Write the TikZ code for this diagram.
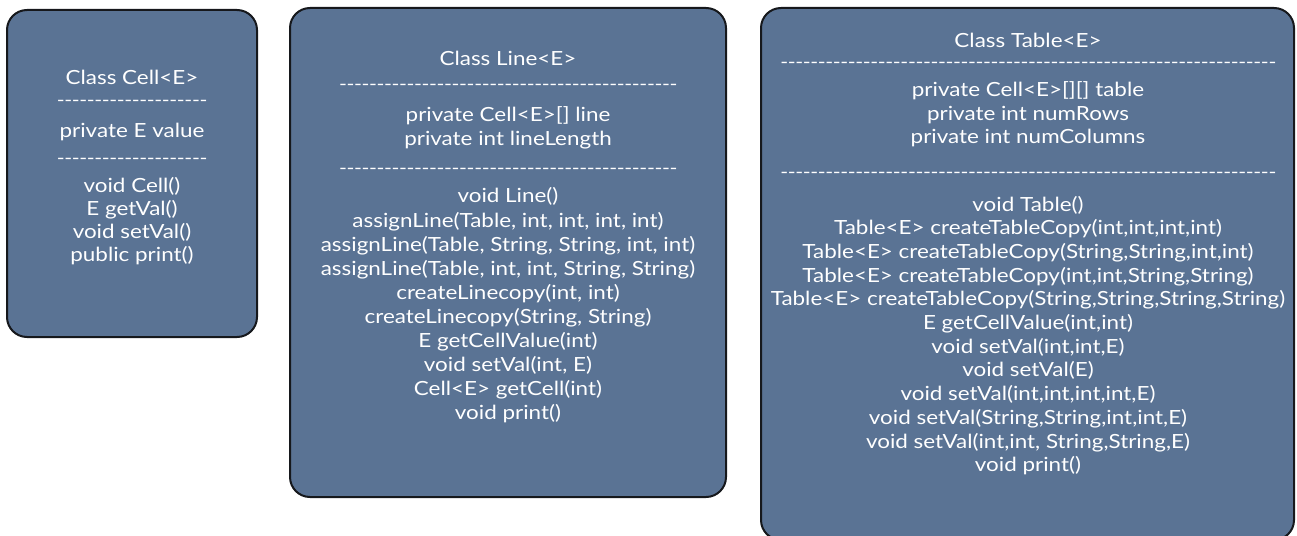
\documentclass[tikz,border=0pt]{standalone}
\usepackage{fontspec}
\setmainfont{Lato}[FakeStretch=1.15]
\definecolor{boxfill}{RGB}{90,115,148}
\definecolor{boxedge}{RGB}{22,24,28}
\newcount\dcnt
\newcommand\dashrow[1]{\dcnt=0\relax\loop\ifnum\dcnt<#1\relax\makebox[7.5pt]{-}\advance\dcnt by 1\relax\repeat}
\begin{document}
\begin{tikzpicture}[x=1pt,y=-1pt,
 classbox/.style={draw=boxedge, line width=2pt, fill=boxfill, rounded corners=20pt, inner sep=0pt},
 txt/.style={text=white, align=center, inner sep=0pt, font=\fontsize{19.5}{23.6}\selectfont},
 sep/.style={text=white, inner sep=0pt, font=\fontsize{18.5}{18.5}\selectfont}]
\useasboundingbox (0,0) rectangle (1297,535);
\clip (0,0) rectangle (1297,535);
% boxes
\node[classbox, minimum width=250pt, minimum height=327pt] (cellbox) at (132,173.5) {};
\node[classbox, minimum width=436pt, minimum height=489pt] (linebox) at (508,252.5) {};
\node[classbox, minimum width=533pt, minimum height=532pt] (tablebox) at (1027.5,274) {};
% Cell
\node[txt] (celltitle) at (132,77) {Class Cell<E>};
\node[sep] (cellsepa) at (132,103) {\dashrow{20}};
\node[txt] (cellattr) at (132,132) {private E value};
\node[sep] (cellsepb) at (132,161) {\dashrow{20}};
\node[txt, font=\fontsize{19.5}{23}\selectfont] (cellmeth) at (132,221.5) {void Cell()\\E getVal()\\void setVal()\\public print()};
% Line
\node[txt] (linetitle) at (508,58) {Class Line<E>};
\node[sep] (linesepa) at (508,87) {\dashrow{45}};
\node[txt] (lineattr) at (508,128) {private Cell<E>[] line\\private int lineLength};
\node[sep] (linesepb) at (508,171) {\dashrow{45}};
\node[txt, font=\fontsize{19.5}{24.1}\selectfont] (linemeth) at (508,305.5) {void Line()\\assignLine(Table, int, int, int, int)\\assignLine(Table, String, String, int, int)\\assignLine(Table, int, int, String, String)\\createLinecopy(int, int)\\createLinecopy(String, String)\\E getCellValue(int)\\void setVal(int, E)\\Cell<E> getCell(int)\\void print()};
% Table
\node[txt] (tabletitle) at (1028,40) {Class Table<E>};
\node[sep] (tablesepa) at (1028,65) {\dashrow{66}};
\node[txt] (tableattr) at (1028,114.5) {private Cell<E>[][] table\\private int numRows\\private int numColumns};
\node[sep] (tablesepb) at (1028,175) {\dashrow{66}};
\node[txt, font=\fontsize{19.5}{23.7}\selectfont] (tablemeth) at (1028,335.5) {void Table()\\Table<E> createTableCopy(int,int,int,int)\\Table<E> createTableCopy(String,String,int,int)\\Table<E> createTableCopy(int,int,String,String)\\Table<E> createTableCopy(String,String,String,String)\\E getCellValue(int,int)\\void setVal(int,int,E)\\void setVal(E)\\void setVal(int,int,int,int,E)\\void setVal(String,String,int,int,E)\\void setVal(int,int, String,String,E)\\void print()};
\end{tikzpicture}
\end{document}
